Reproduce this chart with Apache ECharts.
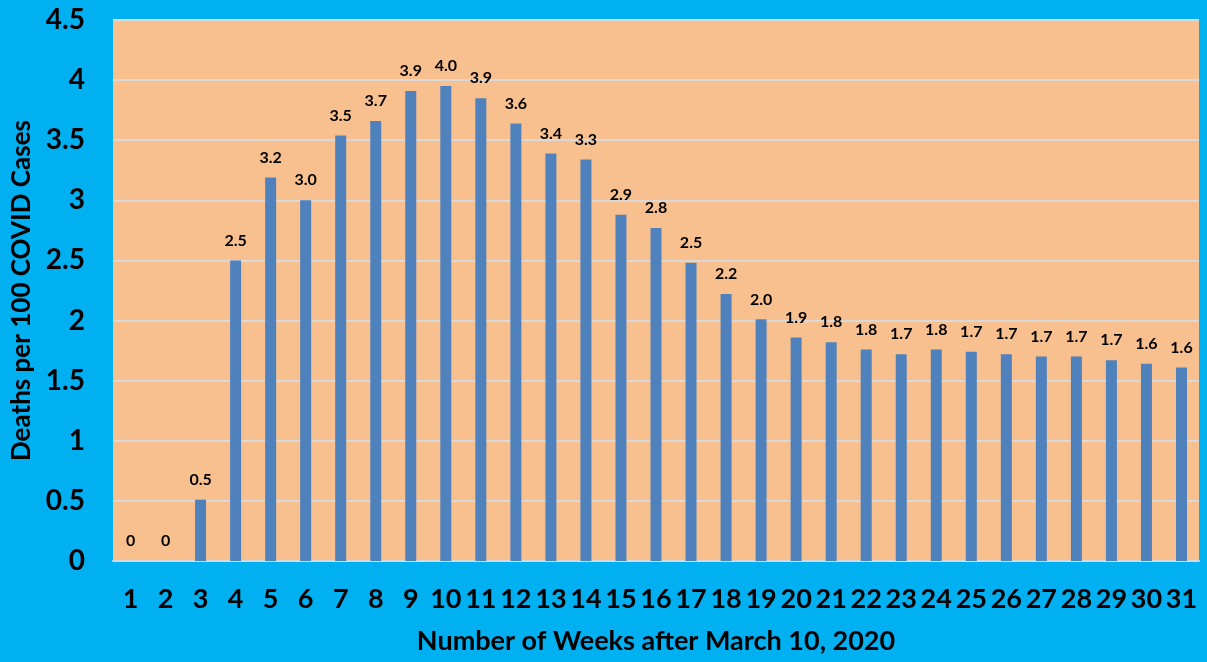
<!DOCTYPE html>
<html>
<head>
<meta charset="utf-8">
<script src="https://cdn.jsdelivr.net/npm/echarts@6/dist/echarts.min.js"></script>
<style>
    html, body { margin: 0; padding: 0; background: #00b0f0; }
    #chart { width: 1207px; height: 662px; }
</style>
</head>
<body>
<div id="chart"></div>
<script>
    // weeks after March 10, 2020
    var weeks = ['1', '2', '3', '4', '5', '6', '7', '8', '9', '10', '11', '12', '13', '14', '15', '16',
        '17', '18', '19', '20', '21', '22', '23', '24', '25', '26', '27', '28', '29', '30', '31'];
    // deaths per 100 cases
    var deaths = [0, 0, 0.51, 2.50, 3.19, 3.00, 3.54, 3.66, 3.91, 3.95, 3.85, 3.64, 3.39, 3.34, 2.88, 2.77,
        2.48, 2.22, 2.01, 1.86, 1.82, 1.76, 1.72, 1.76, 1.74, 1.72, 1.70, 1.70, 1.67, 1.64, 1.61];

    var font = 'Lato, "Open Sans", sans-serif';

    var chart = echarts.init(document.getElementById('chart'));
    chart.setOption({
        backgroundColor: '#00b0f0',
        animation: false,
        grid: {
            left: 113, right: 8, top: 20, bottom: 101,
            show: true,
            backgroundColor: '#f9c08f',
            borderWidth: 0
        },
        xAxis: {
            type: 'category',
            data: weeks,
            name: 'Number of Weeks after March 10, 2020',
            nameLocation: 'middle',
            nameGap: 80,
            nameTextStyle: { color: '#000', fontFamily: font, fontWeight: 'bold', fontSize: 27, verticalAlign: 'middle' },
            axisLine: { lineStyle: { color: '#d9d9d9', width: 2 } },
            axisTick: { show: false },
            axisLabel: { interval: 0, color: '#000', fontFamily: font, fontWeight: 'bold', fontSize: 27, margin: 25 }
        },
        yAxis: {
            type: 'value',
            min: 0, max: 4.5, interval: 0.5,
            name: 'Deaths per 100 COVID Cases',
            nameLocation: 'middle',
            nameGap: 75,
            nameTextStyle: { color: '#000', fontFamily: font, fontWeight: 'bold', fontSize: 26 },
            axisLine: { show: false },
            axisTick: { show: false },
            axisLabel: { color: '#000', fontFamily: font, fontWeight: 'bold', fontSize: 28, margin: 28 },
            splitLine: { lineStyle: { color: '#d9d9d9', width: 2 } }
        },
        series: [{
            type: 'bar',
            data: deaths,
            barWidth: 11,
            itemStyle: { color: '#4f81bd' },
            label: {
                show: true,
                position: 'top',
                distance: 12,
                color: '#000',
                fontFamily: font,
                fontWeight: 'bold',
                fontSize: 16,
                formatter: function (p) { return p.value === 0 ? '0' : p.value.toFixed(1); }
            }
        }]
    });
</script>
</body>
</html>
